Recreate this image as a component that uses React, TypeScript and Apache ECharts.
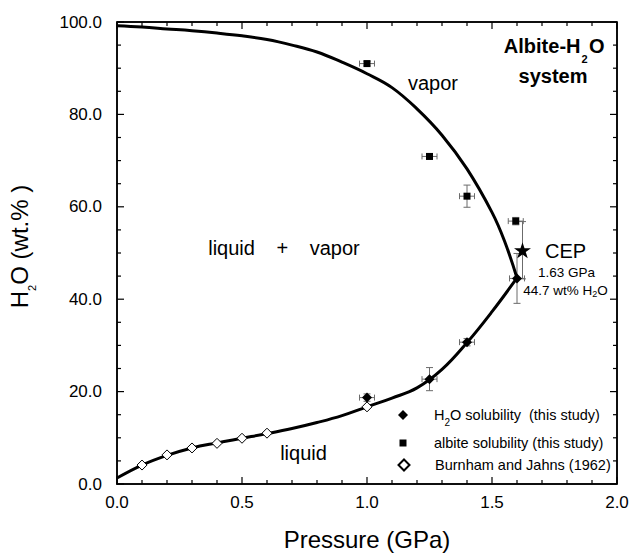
import React, { useEffect, useRef } from "react";
import * as echarts from "echarts";

// ---- axis ticks ----
const xMajorTicks = [0, 0.5, 1.0, 1.5, 2.0];
const xMinorTicks = [0.1, 0.2, 0.3, 0.4, 0.6, 0.7, 0.8, 0.9, 1.1, 1.2, 1.3, 1.4, 1.6, 1.7, 1.8, 1.9];
const yMajorTicks = [0, 20, 40, 60, 80, 100];
const yMinorTicks = [5, 10, 15, 25, 30, 35, 45, 50, 55, 65, 70, 75, 85, 90, 95];

// ---- phase boundary curves ----
const vaporCurveP = [0, 0.1, 0.2, 0.3, 0.4, 0.5, 0.6, 0.7, 0.8, 0.9, 1.0, 1.1, 1.2, 1.3, 1.4, 1.5, 1.55, 1.6];
const vaporCurveW = [99.2, 98.9, 98.5, 98.1, 97.6, 97.0, 96.2, 95.0, 93.5, 91.3, 88.8, 85.8, 81.2, 75.5, 68.2, 58.8, 52.6, 44.6];
const liquidCurveP = [0, 0.1, 0.2, 0.3, 0.4, 0.5, 0.6, 0.7, 0.8, 0.9, 1.0, 1.1, 1.2, 1.3, 1.4, 1.5, 1.6];
const liquidCurveW = [1.3, 4.1, 6.2, 7.8, 8.9, 9.9, 10.9, 12.0, 13.3, 14.8, 16.7, 18.6, 20.8, 24.8, 30.6, 37.3, 44.6];

// ---- H2O solubility (this study) ----
const h2oP = [1.0, 1.25, 1.4, 1.6];
const h2oW = [18.7, 22.7, 30.7, 44.5];
const h2oPErr = [0.03, 0.03, 0.03, 0.03];
const h2oWErr = [0.8, 2.5, 0.8, 5.4];

// ---- albite solubility (this study) ----
const albP = [1.0, 1.25, 1.4, 1.595];
const albW = [91.0, 70.9, 62.3, 56.9];
const albPErr = [0.03, 0.03, 0.03, 0.03];
const albWErr = [0.5, 0.6, 2.4, 0.8];

// ---- Burnham and Jahns (1962) ----
const bjP = [0.1, 0.2, 0.3, 0.4, 0.5, 0.6, 1.0];
const bjW = [4.1, 6.3, 7.8, 8.8, 9.9, 11.0, 16.7];

// ---- critical end point ----
const cepP = [1.622];
const cepW = [50.6];
const cepWErr = [6.2];

const FONT = "'Liberation Sans', Arial, Helvetica, sans-serif";
const STAR =
  "path://M50,0 L61.2,34.5 L97.6,34.5 L68.2,55.9 L79.4,90.5 L50,69.1 L20.6,90.5 L31.8,55.9 L2.4,34.5 L38.8,34.5 Z";

const NAME_H2O = "H2O solubility  (this study)";
const NAME_ALB = "albite solubility (this study)";
const NAME_BJ = "Burnham and Jahns (1962)";

const X_MIN = xMajorTicks[0];
const X_MAX = xMajorTicks[xMajorTicks.length - 1];
const Y_MIN = yMajorTicks[0];
const Y_MAX = yMajorTicks[yMajorTicks.length - 1];

function buildOption() {
  const vaporData = vaporCurveP.map((p, i) => [p, vaporCurveW[i]]);
  const liquidData = liquidCurveP.map((p, i) => [p, liquidCurveW[i]]);
  const h2oData = h2oP.map((p, i) => [p, h2oW[i]]);
  const albData = albP.map((p, i) => [p, albW[i]]);
  const bjData = bjP.map((p, i) => [p, bjW[i]]);
  const cepData = cepP.map((p, i) => [p, cepW[i]]);
  const frameData = [
    [X_MIN, Y_MAX],
    [X_MAX, Y_MAX],
    [X_MAX, Y_MIN],
  ];
  // [x, y, a, b, kind]  kind 0 = error bar (a = x error, b = y error),
  // kind 1 = x-axis tick (a = length px), kind 2 = y-axis tick (a = length px)
  const markData = [
    ...h2oP.map((p, i) => [p, h2oW[i], h2oPErr[i], h2oWErr[i], 0]),
    ...albP.map((p, i) => [p, albW[i], albPErr[i], albWErr[i], 0]),
    ...cepP.map((p, i) => [p, cepW[i], 0, cepWErr[i], 0]),
    ...xMajorTicks.map((v) => [v, Y_MIN, 7, 0, 1]),
    ...xMinorTicks.map((v) => [v, Y_MIN, 4, 0, 1]),
    ...yMajorTicks.map((v) => [X_MIN, v, 7, 0, 2]),
    ...yMinorTicks.map((v) => [X_MIN, v, 4, 0, 2]),
  ];

  const legendText = (padLeft: number) => ({
    color: "#000",
    fontFamily: FONT,
    fontSize: 14.5,
    lineHeight: 26,
    padding: [0, 0, 0, padLeft],
    rich: {
      a: { fontFamily: FONT, fontSize: 14.5, lineHeight: 26, color: "#000" },
      s: { fontFamily: FONT, fontSize: 10, lineHeight: 10, padding: [15, 0, 0, 0], color: "#000" },
    },
  });

  const plain = (text: string, x: number, y: number, size: number, align = "center", weight = "normal", lh?: number) => ({
    type: "text",
    x,
    y,
    style: {
      text,
      align,
      verticalAlign: "middle",
      fontFamily: FONT,
      fontSize: size,
      fontWeight: weight,
      lineHeight: lh ?? size,
      fill: "#000",
    },
  });

  return {
    animation: false,
    backgroundColor: "#fff",
    textStyle: { fontFamily: FONT },
    grid: {
      left: 117,
      right: 14,
      top: 22,
      bottom: 72,
      outerBoundsMode: "none",
      show: true,
      borderColor: "#000",
      borderWidth: 1.5,
      backgroundColor: "transparent",
    },
    xAxis: {
      type: "value",
      position: "bottom",
      min: X_MIN,
      max: X_MAX,
      interval: 0.5,
      axisLine: { show: true, onZero: false, lineStyle: { color: "#000", width: 1.5 } },
      axisTick: { show: false },
      splitLine: { show: false },
      axisLabel: {
        formatter: (v: number) => v.toFixed(1),
        fontSize: 17,
        color: "#000",
        margin: 10,
        fontFamily: FONT,
      },
      name: "Pressure (GPa)",
      nameLocation: "middle",
      nameGap: 43,
      nameTextStyle: { fontSize: 24, lineHeight: 24, color: "#000", fontFamily: FONT },
    },
    yAxis: {
      type: "value",
      position: "left",
      min: Y_MIN,
      max: Y_MAX,
      interval: 20,
      axisLine: { show: true, onZero: false, lineStyle: { color: "#000", width: 1.5 } },
      axisTick: { show: false },
      splitLine: { show: false },
      axisLabel: {
        formatter: (v: number) => v.toFixed(1),
        fontSize: 17,
        color: "#000",
        margin: 15,
        fontFamily: FONT,
      },
      name: "{a|H}{s|2}{a|O (wt.% )}",
      nameLocation: "middle",
      nameRotate: 90,
      nameGap: 79,
      nameTextStyle: {
        color: "#000",
        fontFamily: FONT,
        padding: [0, 0, 0, 13],
        rich: {
          a: { fontFamily: FONT, fontSize: 24, lineHeight: 38, color: "#000" },
          s: { fontFamily: FONT, fontSize: 11, lineHeight: 11, padding: [26, 0, 0, 0], color: "#000" },
        },
      },
    },
    legend: [
      {
        data: [{ name: NAME_H2O, icon: "diamond" }],
        orient: "vertical",
        left: 398,
        top: 402,
        padding: 0,
        itemWidth: 10,
        itemHeight: 10,
        selectedMode: false,
        formatter: () => "{a|H}{s|2}{a|O solubility  (this study)}",
        textStyle: legendText(21),
      },
      {
        data: [{ name: NAME_ALB, icon: "rect" }],
        orient: "vertical",
        left: 399.5,
        top: 430,
        padding: 0,
        itemWidth: 7,
        itemHeight: 7,
        selectedMode: false,
        textStyle: legendText(22.5),
      },
      {
        data: [{ name: NAME_BJ, icon: "diamond" }],
        orient: "vertical",
        left: 397.5,
        top: 452,
        padding: 0,
        itemWidth: 11,
        itemHeight: 11,
        selectedMode: false,
        textStyle: legendText(20.5),
      },
    ],
    graphic: [
      plain("Albite-H", 580.5, 45.8, 20, "right", "bold", 20),
      plain("2", 581.5, 59, 11, "left", "bold", 10),
      plain("O", 589, 45.8, 20, "left", "bold", 20),
      plain("system", 553, 76, 20, "center", "bold", 18),
      plain("vapor", 433, 83, 20),
      {
        type: "text",
        x: 284,
        y: 248,
        style: {
          text: "{a|liquid }{p|+}{a| vapor}",
          align: "center",
          verticalAlign: "middle",
          rich: {
            a: { fontFamily: FONT, fontSize: 20, lineHeight: 24, color: "#000" },
            p: { fontFamily: FONT, fontSize: 20, lineHeight: 24, padding: [0, 16, 0, 16], color: "#000" },
          },
        },
      },
      plain("liquid", 303.5, 453, 20),
      plain("CEP", 545, 251.4, 20, "left"),
      plain("1.63 GPa", 566.5, 272, 13.5),
      {
        type: "text",
        x: 565.5,
        y: 290.3,
        style: {
          text: "{a|44.7 wt% H}{s|2}{a|O}",
          align: "center",
          verticalAlign: "middle",
          rich: {
            a: { fontFamily: FONT, fontSize: 13.5, lineHeight: 20, color: "#000" },
            s: { fontFamily: FONT, fontSize: 9, lineHeight: 9, padding: [8, 0, 0, 0], color: "#000" },
          },
        },
      },
    ],
    series: [
      {
        type: "custom",
        name: "error bars and ticks",
        silent: true,
        z: 1,
        encode: { x: 0, y: 1 },
        data: markData,
        renderItem: (_params: any, api: any) => {
          const x = api.value(0);
          const y = api.value(1);
          const a = api.value(2);
          const b = api.value(3);
          const kind = api.value(4);
          const children: any[] = [];
          if (kind === 1) {
            const tickStyle = { stroke: "#000", lineWidth: 1.2, fill: "none" };
            const bt = api.coord([x, Y_MIN]);
            const tp = api.coord([x, Y_MAX]);
            children.push({ type: "line", shape: { x1: bt[0], y1: bt[1], x2: bt[0], y2: bt[1] - a }, style: tickStyle });
            children.push({ type: "line", shape: { x1: tp[0], y1: tp[1], x2: tp[0], y2: tp[1] + a }, style: tickStyle });
            return { type: "group", children };
          }
          if (kind === 2) {
            const tickStyle = { stroke: "#000", lineWidth: 1.2, fill: "none" };
            const lf = api.coord([X_MIN, y]);
            const rt = api.coord([X_MAX, y]);
            children.push({ type: "line", shape: { x1: lf[0], y1: lf[1], x2: lf[0] + a, y2: lf[1] }, style: tickStyle });
            children.push({ type: "line", shape: { x1: rt[0], y1: rt[1], x2: rt[0] - a, y2: rt[1] }, style: tickStyle });
            return { type: "group", children };
          }
          const style = { stroke: "#6b6b6b", lineWidth: 1, fill: "none" };
          const seg = (x1: number, y1: number, x2: number, y2: number) =>
            children.push({ type: "line", shape: { x1, y1, x2, y2 }, style });
          if (a > 0) {
            const l = api.coord([x - a, y]);
            const r = api.coord([x + a, y]);
            seg(l[0], l[1], r[0], r[1]);
            seg(l[0], l[1] - 3, l[0], l[1] + 3);
            seg(r[0], r[1] - 3, r[0], r[1] + 3);
          }
          if (b > 0) {
            const t = api.coord([x, y + b]);
            const bm = api.coord([x, y - b]);
            seg(t[0], t[1], bm[0], bm[1]);
            seg(t[0] - 3.5, t[1], t[0] + 3.5, t[1]);
            seg(bm[0] - 3.5, bm[1], bm[0] + 3.5, bm[1]);
          }
          return { type: "group", children };
        },
      },
      {
        type: "line",
        name: "frame",
        silent: true,
        z: 2,
        clip: false,
        data: frameData,
        showSymbol: false,
        symbol: "none",
        lineStyle: { color: "#000", width: 1.5 },
      },
      {
        type: "line",
        name: "vapor boundary",
        z: 2,
        data: vaporData,
        smooth: 0.4,
        showSymbol: false,
        symbol: "none",
        lineStyle: { color: "#000", width: 3 },
      },
      {
        type: "line",
        name: "liquid boundary",
        z: 2,
        data: liquidData,
        smooth: 0.4,
        showSymbol: false,
        symbol: "none",
        lineStyle: { color: "#000", width: 3 },
      },
      {
        type: "scatter",
        name: NAME_BJ,
        z: 3,
        data: bjData,
        symbol: "diamond",
        symbolSize: 10,
        itemStyle: { color: "#fff", borderColor: "#000", borderWidth: 1, opacity: 1 },
      },
      {
        type: "scatter",
        name: NAME_H2O,
        z: 4,
        data: h2oData,
        symbol: "diamond",
        symbolSize: 10,
        itemStyle: { color: "#000", opacity: 1 },
      },
      {
        type: "scatter",
        name: NAME_ALB,
        z: 4,
        data: albData,
        symbol: "rect",
        symbolSize: 7,
        itemStyle: { color: "#000", opacity: 1 },
      },
      {
        type: "scatter",
        name: "CEP",
        z: 4,
        data: cepData,
        symbol: STAR,
        symbolSize: [17, 16],
        itemStyle: { color: "#000", opacity: 1 },
      },
    ],
  };
}

export default function App() {
  const ref = useRef<HTMLDivElement>(null);
  useEffect(() => {
    if (!ref.current) return;
    const chart = echarts.init(ref.current, null, { renderer: "svg" });
    chart.setOption(buildOption() as any);
    return () => chart.dispose();
  }, []);
  return (
    <div
      ref={ref}
      style={{ position: "absolute", left: 0, top: 0, width: 631, height: 556, background: "#fff" }}
    />
  );
}
